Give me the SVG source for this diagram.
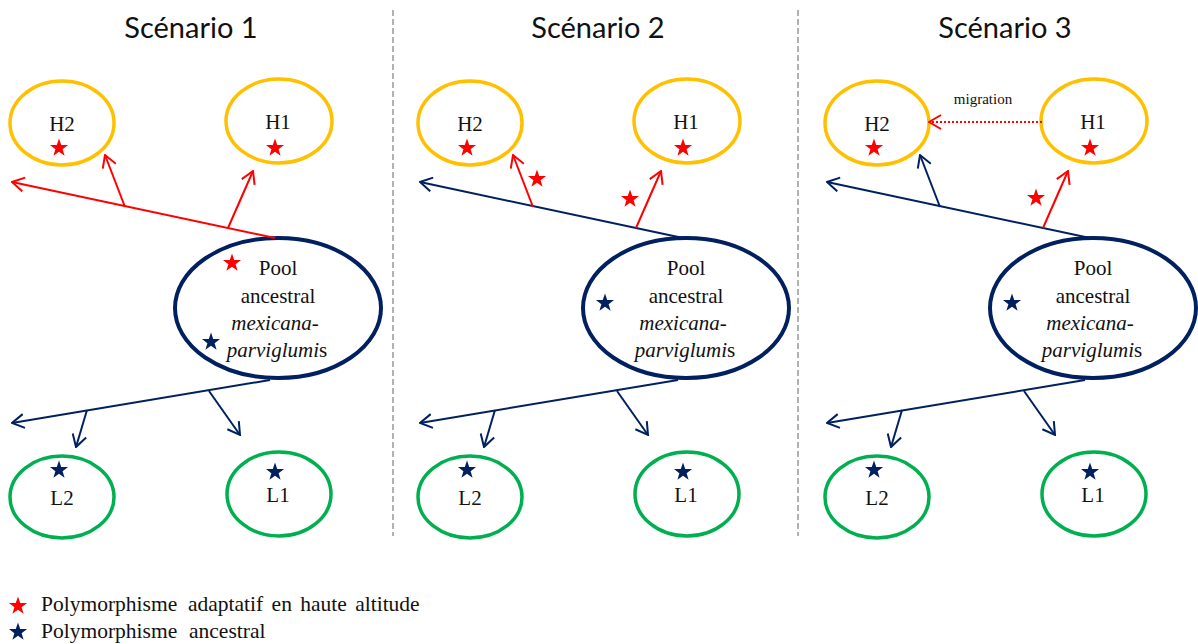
<svg xmlns="http://www.w3.org/2000/svg" xmlns:xlink="http://www.w3.org/1999/xlink" width="1198" height="644" viewBox="0 0 1198 644">
<style>
.title{font-family:Lato,"Liberation Sans",sans-serif;font-size:29px;fill:#111;text-anchor:middle}
.lbl{font-family:"Liberation Serif","Times New Roman",serif;font-size:21px;fill:#111;text-anchor:middle}
.it{font-style:italic}
.hi{fill:none;stroke:#FFC000;stroke-width:3.5}
.lo{fill:none;stroke:#00B050;stroke-width:3.5}
.pool{fill:none;stroke:#002060;stroke-width:4}
.r{fill:none;stroke:#FF0000;stroke-width:2}
.n{fill:none;stroke:#002060;stroke-width:2}
.div{stroke:#999;stroke-width:1.5;stroke-dasharray:6 3}
.sr{fill:#FF0000}
.sn{fill:#002060}
.leg{font-family:"Liberation Serif","Times New Roman",serif;font-size:21.5px;fill:#111}
.mig{font-family:"Liberation Serif","Times New Roman",serif;font-size:15px;fill:#111;text-anchor:middle}
</style>
<defs>
<path id="star" d="M0,-9.5 L2.234,-3.074 L9.035,-2.936 L3.614,1.174 L5.584,7.686 L0,3.8 L-5.584,7.686 L-3.614,1.174 L-9.035,-2.936 L-2.234,-3.074 Z"/>
<marker id="ar" viewBox="0 0 14 16" refX="13" refY="8" markerWidth="14" markerHeight="16" markerUnits="userSpaceOnUse" orient="auto"><path d="M1,1 L13,8 L1,15" fill="none" stroke="#FF0000" stroke-width="2"/></marker>
<marker id="an" viewBox="0 0 14 16" refX="13" refY="8" markerWidth="14" markerHeight="16" markerUnits="userSpaceOnUse" orient="auto"><path d="M1,1 L13,8 L1,15" fill="none" stroke="#002060" stroke-width="2"/></marker>
</defs>
<rect width="1198" height="644" fill="#fff"/>

<g id="dividers">
<line class="div" x1="393" y1="10" x2="393" y2="536"/>
<line class="div" x1="798" y1="10" x2="798" y2="536"/>
</g>

<!-- Scenario 1 -->
<g id="scenario1">
<text class="title" x="191" y="38">Scénario 1</text>
<g id="s1-H2"><ellipse class="hi" cx="62" cy="123" rx="52" ry="42"/><text class="lbl" x="62" y="131">H2</text><use href="#star" class="sr" x="59" y="148"/></g>
<g id="s1-H1"><ellipse class="hi" cx="279" cy="121" rx="53" ry="42"/><text class="lbl" x="278" y="129">H1</text><use href="#star" class="sr" x="275" y="148"/></g>
<g id="s1-pool"><ellipse class="pool" cx="278" cy="308" rx="103" ry="70"/>
<text class="lbl" x="278" y="275">Pool</text><text class="lbl" x="278" y="303">ancestral</text><text class="lbl it" x="275" y="330">mexicana-</text><text class="lbl" x="277" y="357"><tspan class="it">parviglumi</tspan>s</text>
<use href="#star" class="sr" x="232" y="263"/><use href="#star" class="sn" x="211" y="342"/></g>
<g id="s1-L2"><ellipse class="lo" cx="62" cy="497" rx="52" ry="41"/><use href="#star" class="sn" x="59" y="470"/><text class="lbl" x="62" y="505">L2</text></g>
<g id="s1-L1"><ellipse class="lo" cx="279" cy="494" rx="52" ry="42"/><use href="#star" class="sn" x="275" y="472"/><text class="lbl" x="278" y="502">L1</text></g>
<g id="s1-connectors">
<path class="r" d="M275,238 L12,182" marker-end="url(#ar)"/>
<path class="r" d="M125,207 L105,155" marker-end="url(#ar)"/>
<path class="r" d="M228,228 L253,171" marker-end="url(#ar)"/>
<path class="n" d="M270,380 L12,423" marker-end="url(#an)"/>
<path class="n" d="M87,410 L76,447" marker-end="url(#an)"/>
<path class="n" d="M209,391 L240,435" marker-end="url(#an)"/>
</g>
</g>

<!-- Scenario 2 -->
<g id="scenario2" transform="translate(408,0)">
<text class="title" x="190" y="38">Scénario 2</text>
<g id="s2-H2"><ellipse class="hi" cx="62" cy="123" rx="52" ry="42"/><text class="lbl" x="62" y="131">H2</text><use href="#star" class="sr" x="59" y="148"/></g>
<g id="s2-H1"><ellipse class="hi" cx="279" cy="121" rx="53" ry="42"/><text class="lbl" x="278" y="129">H1</text><use href="#star" class="sr" x="275" y="148"/></g>
<g id="s2-pool"><ellipse class="pool" cx="278" cy="308" rx="103" ry="70"/>
<text class="lbl" x="278" y="275">Pool</text><text class="lbl" x="278" y="303">ancestral</text><text class="lbl it" x="275" y="330">mexicana-</text><text class="lbl" x="277" y="357"><tspan class="it">parviglumi</tspan>s</text>
<use href="#star" class="sn" x="197" y="303"/></g>
<g id="s2-L2"><ellipse class="lo" cx="62" cy="497" rx="52" ry="41"/><use href="#star" class="sn" x="59" y="470"/><text class="lbl" x="62" y="505">L2</text></g>
<g id="s2-L1"><ellipse class="lo" cx="279" cy="494" rx="52" ry="42"/><use href="#star" class="sn" x="275" y="472"/><text class="lbl" x="278" y="502">L1</text></g>
<g id="s2-connectors">
<path class="n" d="M275,238 L12,182" marker-end="url(#an)"/>
<path class="r" d="M125,207 L105,155" marker-end="url(#ar)"/>
<path class="r" d="M228,228 L253,171" marker-end="url(#ar)"/>
<use href="#star" class="sr" x="129" y="179"/>
<use href="#star" class="sr" x="222" y="199"/>
<path class="n" d="M270,380 L12,423" marker-end="url(#an)"/>
<path class="n" d="M87,410 L76,447" marker-end="url(#an)"/>
<path class="n" d="M209,391 L240,435" marker-end="url(#an)"/>
</g>
</g>

<!-- Scenario 3 -->
<g id="scenario3" transform="translate(815,0)">
<text class="title" x="190" y="38">Scénario 3</text>
<g id="s3-H2"><ellipse class="hi" cx="62" cy="123" rx="52" ry="42"/><text class="lbl" x="62" y="131">H2</text><use href="#star" class="sr" x="59" y="148"/></g>
<g id="s3-H1"><ellipse class="hi" cx="279" cy="121" rx="53" ry="42"/><text class="lbl" x="278" y="129">H1</text><use href="#star" class="sr" x="275" y="148"/></g>
<g id="s3-pool"><ellipse class="pool" cx="278" cy="308" rx="103" ry="70"/>
<text class="lbl" x="278" y="275">Pool</text><text class="lbl" x="278" y="303">ancestral</text><text class="lbl it" x="275" y="330">mexicana-</text><text class="lbl" x="277" y="357"><tspan class="it">parviglumi</tspan>s</text>
<use href="#star" class="sn" x="197" y="303"/></g>
<g id="s3-L2"><ellipse class="lo" cx="62" cy="497" rx="52" ry="41"/><use href="#star" class="sn" x="59" y="470"/><text class="lbl" x="62" y="505">L2</text></g>
<g id="s3-L1"><ellipse class="lo" cx="279" cy="494" rx="52" ry="42"/><use href="#star" class="sn" x="275" y="472"/><text class="lbl" x="278" y="502">L1</text></g>
<g id="s3-connectors">
<path class="r" d="M227,122 L114,122" stroke-dasharray="2 2" marker-end="url(#ar)"/>
<text class="mig" x="168" y="104">migration</text>
<path class="n" d="M275,238 L12,182" marker-end="url(#an)"/>
<path class="n" d="M125,207 L105,155" marker-end="url(#an)"/>
<path class="r" d="M228,228 L253,171" marker-end="url(#ar)"/>
<use href="#star" class="sr" x="221" y="198"/>
<path class="n" d="M270,380 L12,423" marker-end="url(#an)"/>
<path class="n" d="M87,410 L76,447" marker-end="url(#an)"/>
<path class="n" d="M209,391 L240,435" marker-end="url(#an)"/>
</g>
</g>

<g id="legend">
<use href="#star" class="sr" x="18" y="606"/>
<text class="leg" y="611"><tspan x="41">Polymorphisme</tspan><tspan x="188" word-spacing="3">adaptatif en haute altitude</tspan></text>
<use href="#star" class="sn" x="18" y="632"/>
<text class="leg" y="638"><tspan x="41">Polymorphisme</tspan><tspan x="189">ancestral</tspan></text>
</g>
</svg>
